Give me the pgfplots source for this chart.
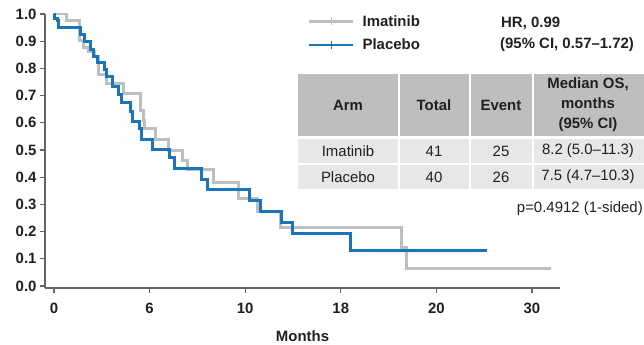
\documentclass[border=0pt]{standalone}
\usepackage{pgfplots}
\pgfplotsset{compat=1.18}
\usepackage{fontspec}
\setmainfont{Liberation Sans}
\definecolor{imagray}{RGB}{190,191,193}
\definecolor{plablue}{RGB}{27,117,187}
\definecolor{hdr}{RGB}{188,190,192}
\definecolor{rowc}{RGB}{230,231,232}
\definecolor{txt}{RGB}{35,31,32}
\definecolor{axc}{RGB}{100,100,102}
\newcommand\fs{\fontsize{15}{17}\selectfont}
\begin{document}
\begin{tikzpicture}[x=1bp,y=1bp]
\path[use as bounding box] (0,0) rectangle (644,344);
% ---- table (y = 344 - pixel row)
\fill[hdr] (298,270) rectangle (398,208);
\fill[hdr] (400,270) rectangle (469,208);
\fill[hdr] (471,270) rectangle (532,208);
\fill[hdr] (534,270) rectangle (644,208);
\fill[rowc] (298,205.5) rectangle (398,181);
\fill[rowc] (400,205.5) rectangle (469,181);
\fill[rowc] (471,205.5) rectangle (532,181);
\fill[rowc] (534,205.5) rectangle (644,181);
\fill[rowc] (298,179) rectangle (398,155.5);
\fill[rowc] (400,179) rectangle (469,155.5);
\fill[rowc] (471,179) rectangle (532,155.5);
\fill[rowc] (534,179) rectangle (644,155.5);
\begin{scope}[every node/.style={font=\fs, text=txt, inner sep=0pt}]
\node[font=\fs\bfseries] at (348,239) {Arm};
\node[font=\fs\bfseries] at (434,239) {Total};
\node[font=\fs\bfseries] at (501,239) {Event};
\node[font=\fontsize{15}{20}\selectfont\bfseries, align=center] at (588,239) {Median OS,\\months\\(95\% CI)};
\node at (348,193) {Imatinib};
\node at (434,193) {41};
\node at (501,193) {25};
\node at (588,193) {8.2 (5.0–11.3)};
\node at (348,167) {Placebo};
\node at (434,167) {40};
\node at (501,167) {26};
\node at (588,167) {7.5 (4.7–10.3)};
\node[anchor=east] at (643,135) {p=0.4912 (1-sided)};
\node[font=\fs\bfseries, anchor=west] at (501,321) {HR, 0.99};
\node[font=\fs\bfseries, anchor=west] at (500,299) {(95\% CI, 0.57–1.72)};
\end{scope}
\begin{axis}[
  at={(45bp,56bp)}, anchor=south west, scale only axis,
  width=515bp, height=274bp,
  xmin=-0.565, xmax=31.76, ymin=-0.0074, ymax=1.0,
  axis x line*=bottom, axis y line*=left,
  axis line style={-, axc, line width=1.3bp},
  tick align=outside, major tick length=5bp,
  tick style={axc, line width=1.1bp},
  xtick={0,6,12,18,24,30}, xticklabels={0,6,10,18,20,30},
  ytick={0,0.1,0.2,0.3,0.4,0.5,0.6,0.7,0.8,0.9,1},
  yticklabels={0.0,0.1,0.2,0.3,0.4,0.5,0.6,0.7,0.8,0.9,1.0},
  ticklabel style={font=\fs\bfseries, text=txt},
  xticklabel style={yshift=-7bp},
  xlabel={Months},
  xlabel style={font=\fs\bfseries, text=txt, at={(axis description cs:0.5,0)}, anchor=center, yshift=-48bp},
  legend style={at={(0.5107,0.996)}, anchor=north west, draw=none, fill=none,
    inner sep=0pt, nodes={inner sep=0pt, font=\fs\bfseries, text=txt},
    column sep=8bp, row sep=11bp, cells={anchor=west}},
  legend image code/.code={
    \draw[#1, line width=2.4bp] (0bp,0bp) -- (44bp,0bp);
    \draw[#1, line width=1.2bp] (22bp,-4bp) -- (22bp,4bp);},
]
\addplot[const plot, imagray, line width=3bp] coordinates {
(0,1.0) (0.8,0.976) (1.63,0.902) (1.84,0.878) (2.15,0.861) (2.57,0.843)
(2.78,0.776) (3.31,0.745) (4.35,0.708) (5.44,0.647) (5.60,0.61) (5.71,0.58)
(6.34,0.539) (7.18,0.497) (8.05,0.463) (8.37,0.428) (10.0,0.38) (11.6,0.322)
(12.8,0.275) (14.19,0.215) (21.8,0.142) (22.1,0.065) (31.2,0.065)};
\addlegendentry{Imatinib}
\addplot[const plot, plablue, line width=3bp] coordinates {
(0,1.0) (0.06,0.985) (0.2,0.975) (0.31,0.95) (1.67,0.925) (1.90,0.90)
(2.26,0.87) (2.47,0.845) (2.74,0.82) (3.16,0.795) (3.3,0.77) (3.70,0.735)
(4.04,0.705) (4.25,0.675) (4.80,0.64) (4.94,0.605) (5.36,0.58) (5.5,0.537)
(6.19,0.502) (7.26,0.472) (7.56,0.431) (9.27,0.39) (9.63,0.355) (12.3,0.316)
(12.93,0.274) (14.3,0.234) (15.0,0.194) (18.58,0.132) (27.2,0.132)};
\addlegendentry{Placebo}
\end{axis}
\end{tikzpicture}
\end{document}
